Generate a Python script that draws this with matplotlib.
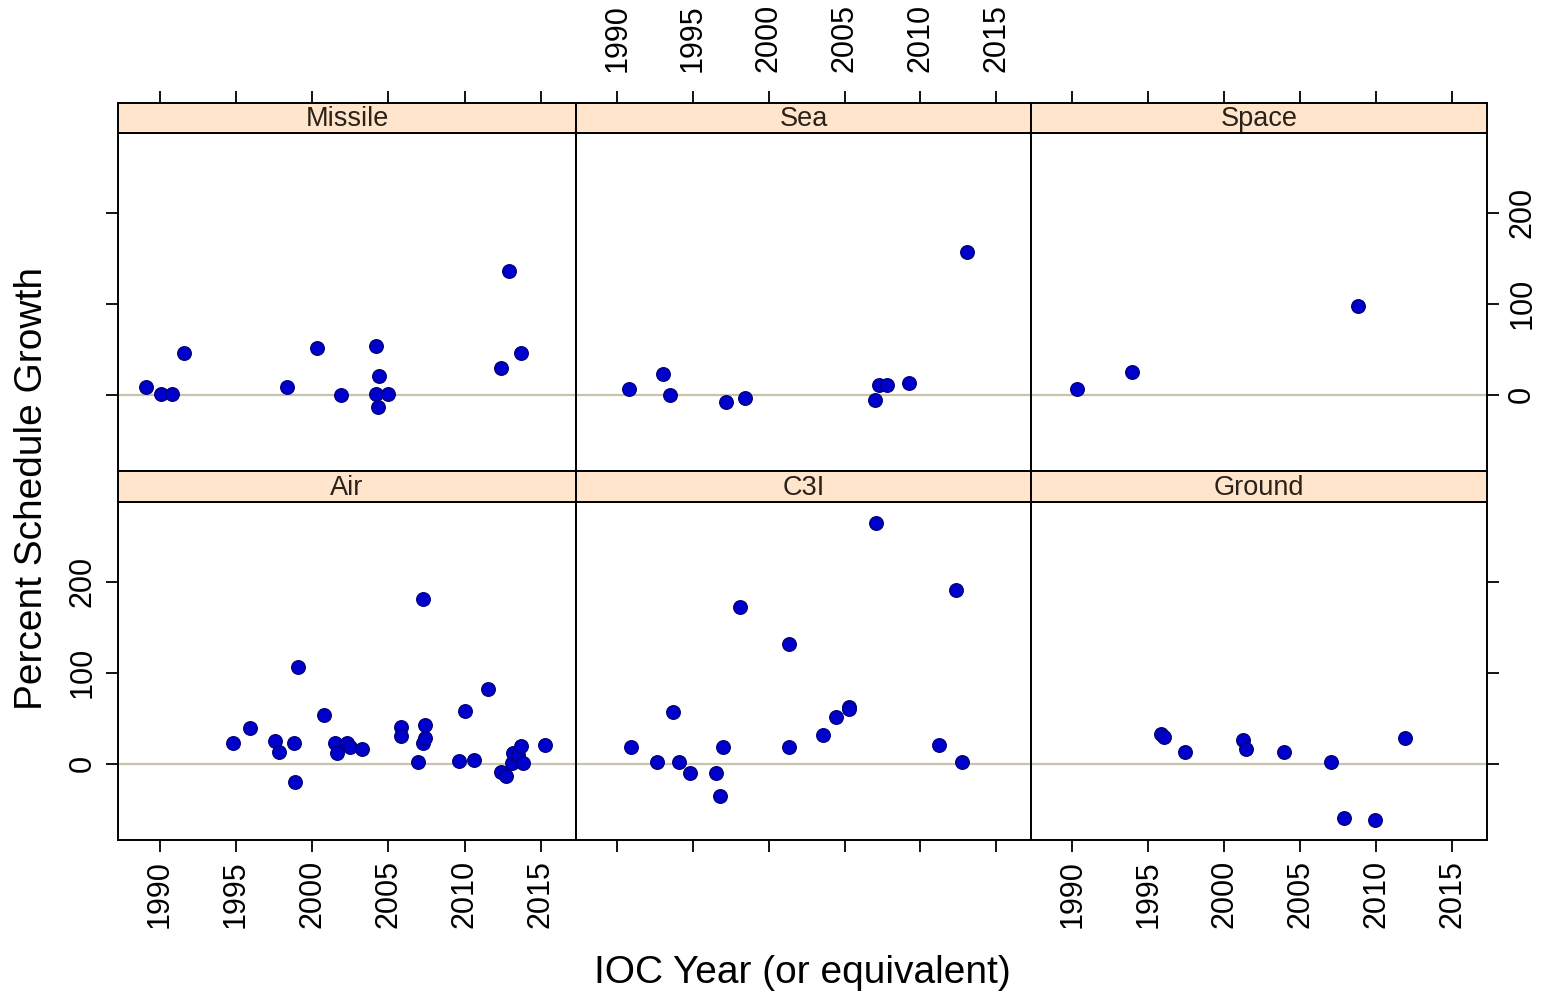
import numpy as np
import matplotlib.pyplot as plt

plt.rcParams['font.family'] = ['Liberation Sans', 'DejaVu Sans']

# Data: IOC year and percent schedule growth per category
missile_year = [1989.1, 1990.1, 1990.8, 1991.6, 1998.35, 2000.35, 2001.9, 2004.2, 2004.4,
                2004.2, 2004.3, 2005.0, 2012.9, 2012.4, 2013.7]
missile_growth = [9, 1.5, 1.5, 46, 9, 51, 0, 53.5, 20.5, 1.5, -13, 1.5, 136, 30, 46]

sea_year = [1990.8, 1993.0, 1993.45, 1997.2, 1998.4, 2007.0, 2007.3, 2007.8, 2009.25, 2013.05]
sea_growth = [6, 23, 0, -8, -3, -6, 11, 11, 13, 157]

space_year = [1990.3, 1993.9, 2008.8]
space_growth = [6, 25, 98]

air_year = [1994.8, 1995.95, 1997.55, 1997.8, 1998.8, 1998.9, 1999.05, 2000.75, 2001.5, 2001.6,
            2002.3, 2002.5, 2003.3, 2005.8, 2005.8, 2006.95, 2007.25, 2007.25, 2007.4, 2007.4,
            2009.6, 2010.05, 2010.6, 2011.5, 2012.35, 2012.7, 2013.1, 2013.2, 2013.5, 2013.7,
            2013.8, 2015.3]
air_growth = [23.5, 39.5, 25.5, 13.5, 23, -19.5, 106, 54, 23.5, 11.5,
              23.5, 18.5, 16, 40.5, 31, 2.5, 181, 23, 42.5, 28,
              3, 58.5, 4.5, 82, -9, -12.8, 1.5, 11.5, 10, 19.5,
              1.5, 21]

c3i_year = [1990.9, 1992.6, 1993.7, 1994.1, 1994.8, 1996.5, 1996.8, 1997.0, 1998.1, 2001.35,
            2001.35, 2003.6, 2004.45, 2005.3, 2005.3, 2007.1, 2011.2, 2012.35, 2012.75]
c3i_growth = [18.5, 2, 56.5, 2, -10, -10, -35.5, 18.5, 172, 132,
              18.5, 32, 51, 63, 60, 264, 21, 191, 2]

ground_year = [1995.85, 1996.05, 1997.4, 2001.2, 2001.4, 2003.9, 2007.0, 2007.9, 2009.9, 2011.9]
ground_growth = [32.5, 30, 13.5, 26.5, 16, 13.5, 2.5, -59.5, -61.5, 28]

panels = [
    ('Missile', missile_year, missile_growth),
    ('Sea', sea_year, sea_growth),
    ('Space', space_year, space_growth),
    ('Air', air_year, air_growth),
    ('C3I', c3i_year, c3i_growth),
    ('Ground', ground_year, ground_growth),
]

x_ticks = [1990, 1995, 2000, 2005, 2010, 2015]
y_ticks = [0, 100, 200]
X_LIM = (1987.27, 2017.3)
Y_LIM = (-83.5, 287.5)

W, H = 1552, 998
COLS = [(118, 576), (576, 1031), (1031, 1487)]
ROWS = [((133, 471), (103, 133)), ((502, 840), (471, 502))]  # (plot, strip) in pixels from top

STRIP_COLOR = '#ffe5cc'
POINT_COLOR = '#0000cc'
TICK_LEN = 8.5
TICK_SIZE = 22

fig = plt.figure(figsize=(W / 100, H / 100), dpi=100)


def frac(x0, x1, y0, y1):
    return [x0 / W, 1 - y1 / H, (x1 - x0) / W, (y1 - y0) / H]


for i, (name, years, growth) in enumerate(panels):
    row, col = divmod(i, 3)
    (py0, py1), (sy0, sy1) = ROWS[row]
    x0, x1 = COLS[col]

    ax = fig.add_axes(frac(x0, x1, py0, py1))
    ax.axhline(0, color='#c9c3ad', lw=1.6, zorder=1)
    ax.scatter(years, growth, s=95, color=POINT_COLOR, edgecolors='#00007a',
               linewidths=1.0, zorder=3)
    ax.set_xlim(*X_LIM)
    ax.set_ylim(*Y_LIM)
    for sp in ax.spines.values():
        sp.set_linewidth(1.4)

    # x ticks on the bottom row only, labels on outer columns
    ax.set_xticks(x_ticks)
    ax.tick_params(axis='x', direction='out', length=TICK_LEN, width=1.3,
                   labelsize=TICK_SIZE, labelrotation=90, pad=6)
    if row == 0:
        ax.tick_params(axis='x', bottom=False, labelbottom=False)
    elif col == 1:
        ax.tick_params(axis='x', labelbottom=False)

    # y ticks on outer columns: left labels on bottom row, right labels on top row
    ax.set_yticks(y_ticks)
    ax.tick_params(axis='y', direction='out', length=TICK_LEN, width=1.3,
                   labelsize=TICK_SIZE, pad=6)
    if col == 0:
        ax.tick_params(axis='y', left=True, right=False, labelleft=(row == 1))
    elif col == 2:
        ax.tick_params(axis='y', left=False, right=True, labelleft=False,
                       labelright=(row == 0))
    else:
        ax.tick_params(axis='y', left=False, labelleft=False)
    for lab in ax.get_yticklabels():
        lab.set_rotation(90)
        lab.set_va('center')

    # strip with the category name
    st = fig.add_axes(frac(x0, x1, sy0, sy1))
    st.set_facecolor(STRIP_COLOR)
    st.set_xlim(*X_LIM)
    st.set_yticks([])
    for sp in st.spines.values():
        sp.set_linewidth(1.4)
    st.text(0.5, 0.45, name, transform=st.transAxes, ha='center', va='center',
            fontsize=19.5, color='#2b2118')
    if row == 0:
        st.set_xticks(x_ticks)
        st.tick_params(axis='x', direction='out', length=TICK_LEN, width=1.3,
                       bottom=False, labelbottom=False, top=True,
                       labeltop=(col == 1), labelsize=TICK_SIZE,
                       labelrotation=90, pad=14)
    else:
        st.set_xticks([])

fig.text(32 / W, 1 - 488 / H, 'Percent Schedule Growth', rotation=90,
         ha='center', va='center', fontsize=28)
fig.text(802 / W, 1 - 973 / H, 'IOC Year (or equivalent)',
         ha='center', va='center', fontsize=28)

fig.savefig('out.png', dpi=100)
